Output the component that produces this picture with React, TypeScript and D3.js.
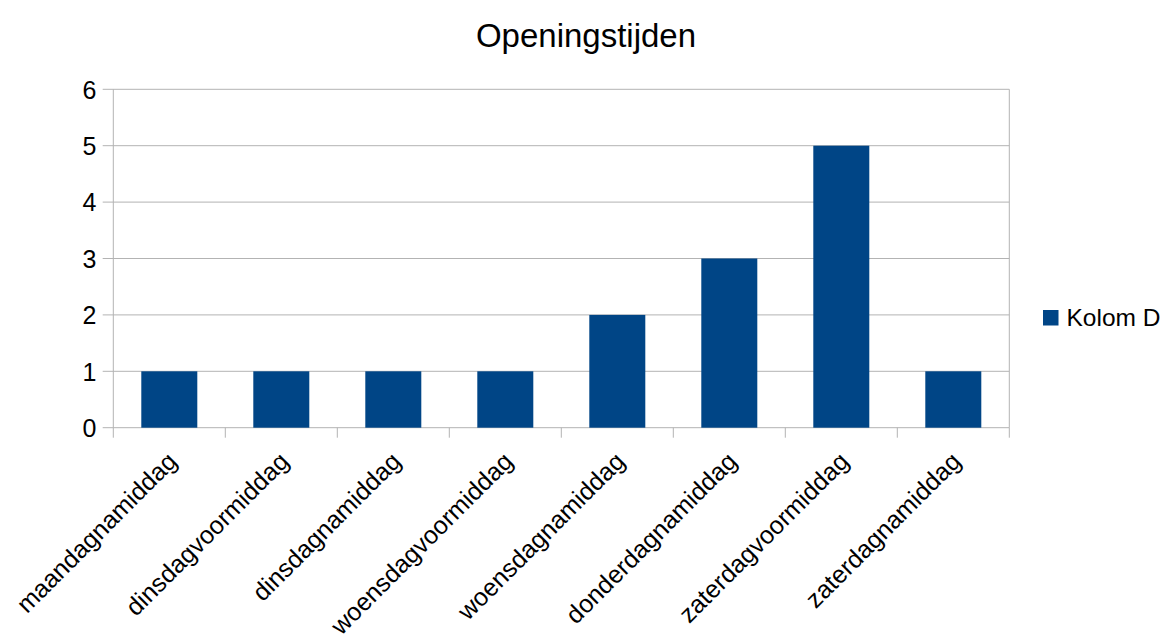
import React from 'react';
import * as d3 from 'd3';

const categories = [
  'maandagnamiddag',
  'dinsdagvoormiddag',
  'dinsdagnamiddag',
  'woensdagvoormiddag',
  'woensdagnamiddag',
  'donderdagnamiddag',
  'zaterdagvoormiddag',
  'zaterdagnamiddag',
];
const kolomD = [1, 1, 1, 1, 2, 3, 5, 1];
const yTicks = [0, 1, 2, 3, 4, 5, 6];
const seriesName = 'Kolom D';
const title = 'Openingstijden';

const width = 1169;
const height = 635;
const marginLeft = 113.3;
const marginRight = 1009.3;
const plotTop = 89.3;
const plotBottom = 427.7;
const barColor = '#004586';
const gridColor = '#b3b3b3';
const font = '"Liberation Sans", Arial, sans-serif';

const App = () => {
  const x = d3.scaleBand<string>()
    .domain(categories)
    .range([marginLeft, marginRight])
    .paddingInner(0.5)
    .paddingOuter(0.25);
  const y = d3.scaleLinear().domain([0, 6]).range([plotBottom, plotTop]);
  const step = x.step();
  // category separators sit between bands
  const seps = d3.range(categories.length + 1).map(i => marginLeft + i * step);

  return (
    <svg width={width} height={height}
      style={{ position: 'absolute', left: 0, top: 0, background: '#fff' }}
      fontFamily={font}>
      <text x={586} y={47} fontSize={33} textAnchor="middle" fill="#000">{title}</text>

      {/* gridlines */}
      {yTicks.map(t => (
        <line key={'g' + t} x1={102.7} x2={marginRight} y1={y(t)} y2={y(t)}
          stroke={gridColor} strokeWidth={1} />
      ))}
      {/* y axis */}
      <line x1={marginLeft} x2={marginLeft} y1={plotTop} y2={plotBottom}
        stroke={gridColor} strokeWidth={1} />
      <line x1={marginRight} x2={marginRight} y1={plotTop} y2={plotBottom}
        stroke={gridColor} strokeWidth={1} />
      {seps.map((s, i) => (
        <line key={'s' + i} x1={s} x2={s} y1={plotBottom} y2={plotBottom + 10}
          stroke={gridColor} strokeWidth={1} />
      ))}
      {yTicks.map(t => (
        <text key={'l' + t} x={96.5} y={y(t)} dy="0.37em" fontSize={25}
          textAnchor="end" fill="#000">{t}</text>
      ))}

      {/* bars */}
      {kolomD.map((v, i) => (
        <rect key={'b' + i} x={x(categories[i])} y={y(v)}
          width={x.bandwidth()} height={y(0) - y(v)} fill={barColor} />
      ))}

      {/* rotated category labels */}
      {categories.map(c => {
        const cx = (x(c) as number) + x.bandwidth() / 2;
        return (
          <text key={'c' + c} transform={`translate(${cx + 9},463) rotate(-45)`}
            fontSize={25} textAnchor="end" fill="#000">{c}</text>
        );
      })}

      {/* legend */}
      <rect x={1043} y={310} width={15.5} height={15.5} fill={barColor} />
      <text x={1066.5} y={326} fontSize={24.5} fill="#000">{seriesName}</text>
    </svg>
  );
};

export default App;
